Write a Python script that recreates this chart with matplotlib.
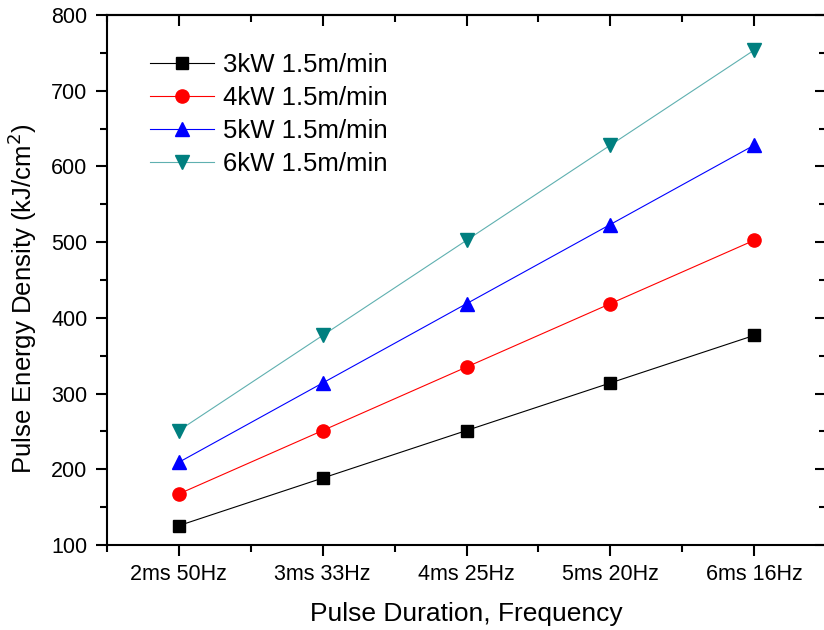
import matplotlib

matplotlib.use("Agg")
import matplotlib.pyplot as plt
import numpy as np
from matplotlib.ticker import MultipleLocator

plt.rcParams["font.family"] = ["Liberation Sans", "DejaVu Sans"]

conditions = ["2ms 50Hz", "3ms 33Hz", "4ms 25Hz", "5ms 20Hz", "6ms 16Hz"]
series_labels = ["3kW 1.5m/min", "4kW 1.5m/min", "5kW 1.5m/min", "6kW 1.5m/min"]
energy_3kw = [125.6, 188.4, 251.2, 314.0, 376.8]
energy_4kw = [167.5, 251.2, 335.0, 418.7, 502.4]
energy_5kw = [209.3, 314.0, 418.7, 523.3, 628.0]
energy_6kw = [251.2, 376.8, 502.4, 628.0, 753.6]

styles = [
    ("s", "black", "black", 8.5),
    ("o", "red", "red", 9.5),
    ("^", "blue", "blue", 10.5),
    ("v", "#007f7f", "#5fb0b0", 10.5),
]


def main() -> None:
    fig = plt.figure(figsize=(8.24, 6.30), dpi=100)
    # right spine sits just past the canvas edge
    ax = fig.add_axes([107 / 824, 85 / 630, 719 / 824, 530 / 630])

    x = np.arange(1, len(conditions) + 1)
    for vals, label, (mk, mcol, lcol, ms) in zip(
        [energy_3kw, energy_4kw, energy_5kw, energy_6kw], series_labels, styles
    ):
        ax.plot(x, vals, color=lcol, lw=0.8, marker=mk, ms=ms,
                markerfacecolor=mcol, markeredgecolor=mcol, label=label)

    ax.set_xlim(0.5, 5.5)
    ax.set_ylim(100, 800)
    ax.set_xticks(x)
    ax.set_xticklabels(conditions)
    ax.xaxis.set_minor_locator(MultipleLocator(0.5))
    ax.yaxis.set_major_locator(MultipleLocator(100))
    ax.yaxis.set_minor_locator(MultipleLocator(50))

    ax.tick_params(which="both", direction="out", width=1.5, labelsize=15.5, pad=6)
    ax.tick_params(which="major", length=8)
    ax.tick_params(which="minor", length=5)
    # inward ticks on the top and right edges
    sec_x = ax.secondary_xaxis("top")
    sec_x.set_xticks(x)
    sec_x.xaxis.set_minor_locator(MultipleLocator(0.5))
    sec_x.tick_params(which="both", direction="in", width=1.5, labeltop=False)
    sec_x.tick_params(which="major", length=8)
    sec_x.tick_params(which="minor", length=5)
    sec_y = ax.secondary_yaxis("right")
    sec_y.yaxis.set_major_locator(MultipleLocator(100))
    sec_y.yaxis.set_minor_locator(MultipleLocator(50))
    sec_y.tick_params(which="both", direction="in", width=1.5, labelright=False)
    sec_y.tick_params(which="major", length=8)
    sec_y.tick_params(which="minor", length=5)
    for a in (ax, sec_x, sec_y):
        for sp in a.spines.values():
            sp.set_linewidth(1.5)

    ax.set_xlabel("Pulse Duration, Frequency", fontsize=19, labelpad=12)
    ax.set_ylabel("Pulse Energy Density (kJ/cm$^2$)", fontsize=18.5, labelpad=8)
    ax.yaxis.set_label_coords(-0.095, 0.464)

    ax.legend(loc="upper left", bbox_to_anchor=(0.045, 0.947), frameon=False,
              fontsize=18.5, handlelength=2.5, handletextpad=0.35,
              labelspacing=0.35, borderaxespad=0)

    fig.savefig("out.png", dpi=100)
    plt.close(fig)


if __name__ == "__main__":
    main()
